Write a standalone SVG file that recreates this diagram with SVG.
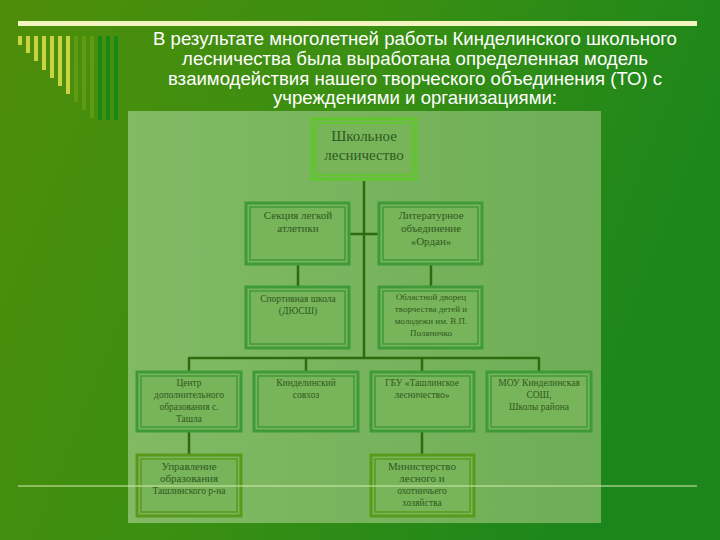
<svg xmlns="http://www.w3.org/2000/svg" width="720" height="540" viewBox="0 0 720 540">
<defs>
<linearGradient id="bg" x1="0" y1="0" x2="1" y2="0.3">
<stop offset="0" stop-color="#4f8d0a"/><stop offset="0.5" stop-color="#3a8f12"/><stop offset="1" stop-color="#1c861c"/>
</linearGradient>
<linearGradient id="pn" x1="0" y1="0" x2="1" y2="0">
<stop offset="0" stop-color="#82ba64"/><stop offset="1" stop-color="#6eae56"/>
</linearGradient>
<style>
.t{font-family:"Liberation Sans",Arial,sans-serif;font-size:18.6px;fill:#fff;text-anchor:middle}
.b rect.o{fill:#78b45a;stroke:#3f9a3a;stroke-width:3}
.b rect.i{fill:none;stroke:#3f9a3a;stroke-width:1.5}
.b text{font-family:"Liberation Serif","Times New Roman",serif;font-size:11px;fill:#2f5a20;text-anchor:middle}
.c line{stroke:#2e6a0e;stroke-width:2.5}
</style>
</defs>
<rect width="720" height="540" fill="url(#bg)"/>
<rect x="18" y="21" width="679" height="5" fill="#f3f5c0"/>
<g>
<rect x="18" y="36" width="4" height="9" fill="#c9d240"/>
<rect x="26" y="36" width="4" height="17" fill="#c9d240"/>
<rect x="34" y="36" width="4" height="25" fill="#c9d240"/>
<rect x="42" y="36" width="4" height="34" fill="#c9d240"/>
<rect x="50" y="36" width="4" height="42" fill="#c9d240"/>
<rect x="58" y="36" width="4" height="50" fill="#c9d240"/>
<rect x="66" y="36" width="4" height="58" fill="#c9d240"/>
<rect x="74" y="36" width="4" height="66" fill="#5e9a12"/>
<rect x="82" y="36" width="4" height="74" fill="#5e9a12"/>
<rect x="90" y="36" width="4" height="82" fill="#5e9a12"/>
<rect x="98" y="36" width="4" height="84" fill="#168816"/>
<rect x="106" y="36" width="4" height="84" fill="#168816"/>
<rect x="114" y="36" width="4" height="84" fill="#168816"/>
</g>
<text class="t" x="415" y="45">В результате многолетней работы Кинделинского школьного</text>
<text class="t" x="415" y="65">лесничества была выработана определенная модель</text>
<text class="t" x="415" y="85">взаимодействия нашего творческого объединения (ТО) с</text>
<text class="t" x="415" y="104">учреждениями и организациями:</text>
<rect x="128" y="111" width="473" height="412" fill="url(#pn)"/>
<g class="c">
<line x1="364" y1="181" x2="364" y2="358"/>
<line x1="349" y1="234" x2="379" y2="234"/>
<line x1="298" y1="264" x2="298" y2="287"/>
<line x1="431" y1="264" x2="431" y2="287"/>
<line x1="188" y1="358" x2="540" y2="358"/>
<line x1="189" y1="358" x2="189" y2="372"/>
<line x1="306" y1="358" x2="306" y2="372"/>
<line x1="422" y1="358" x2="422" y2="372"/>
<line x1="539" y1="358" x2="539" y2="372"/>
<line x1="189" y1="431" x2="189" y2="455"/>
<line x1="422" y1="431" x2="422" y2="455"/>
</g>
<g id="n1" class="b"><rect class="o" x="312" y="119" width="104" height="60" style="stroke:#5ec82a"/><rect class="i" x="316" y="123" width="96" height="52" style="stroke:#5ec82a"/><text x="364" y="141" style="font-size:15px">Школьное</text><text x="364" y="160" style="font-size:15px">лесничество</text></g>
<g id="n2" class="b"><rect class="o" x="246" y="203" width="103" height="61"/><rect class="i" x="250" y="207" width="95" height="53"/><text x="298" y="219">Секция легкой</text><text x="298" y="232">атлетики</text></g>
<g id="n3" class="b"><rect class="o" x="379" y="203" width="103" height="61"/><rect class="i" x="383" y="207" width="95" height="53"/><text x="431" y="219">Литературное</text><text x="431" y="232">объединение</text><text x="431" y="245">«Ордан»</text></g>
<g id="n4" class="b"><rect class="o" x="246" y="287" width="103" height="61"/><rect class="i" x="250" y="291" width="95" height="53"/><text x="298" y="302" style="font-size:9.5px">Спортивная школа</text><text x="298" y="314" style="font-size:9.5px">(ДЮСШ)</text></g>
<g id="n5" class="b"><rect class="o" x="379" y="287" width="103" height="61"/><rect class="i" x="383" y="291" width="95" height="53"/><text x="431" y="300" style="font-size:9px">Областной дворец</text><text x="431" y="312" style="font-size:9px">творчества детей и</text><text x="431" y="324" style="font-size:9px">молодежи им. В.П.</text><text x="431" y="336" style="font-size:9px">Поляничко</text></g>
<g id="n6" class="b"><rect class="o" x="137" y="372" width="104" height="59"/><rect class="i" x="141" y="376" width="96" height="51"/><text x="189" y="386" style="font-size:9.5px">Центр</text><text x="189" y="398" style="font-size:9.5px">дополнительного</text><text x="189" y="410" style="font-size:9.5px">образования с.</text><text x="189" y="422" style="font-size:9.5px">Ташла</text></g>
<g id="n7" class="b"><rect class="o" x="254" y="372" width="104" height="59"/><rect class="i" x="258" y="376" width="96" height="51"/><text x="306" y="386" style="font-size:9.5px">Кинделинский</text><text x="306" y="398" style="font-size:9.5px">совхоз</text></g>
<g id="n8" class="b"><rect class="o" x="371" y="372" width="103" height="59"/><rect class="i" x="375" y="376" width="95" height="51"/><text x="422" y="386" style="font-size:9.5px">ГБУ «Ташлинское</text><text x="422" y="398" style="font-size:9.5px">лесничество»</text></g>
<g id="n9" class="b"><rect class="o" x="487" y="372" width="104" height="59"/><rect class="i" x="491" y="376" width="96" height="51"/><text x="539" y="386" style="font-size:9.5px">МОУ Кинделинская</text><text x="539" y="398" style="font-size:9.5px">СОШ,</text><text x="539" y="410" style="font-size:9.5px">Школы района</text></g>
<g id="n10" class="b"><rect class="o" x="137" y="455" width="104" height="61" style="stroke:#5a9a1a"/><rect class="i" x="141" y="459" width="96" height="53" style="stroke:#5a9a1a"/><text x="189" y="470">Управление</text><text x="189" y="482">образования</text><text x="189" y="494" style="font-size:9.5px">Ташлинского р-на</text></g>
<g id="n11" class="b"><rect class="o" x="371" y="455" width="103" height="61" style="stroke:#5a9a1a"/><rect class="i" x="375" y="459" width="95" height="53" style="stroke:#5a9a1a"/><text x="422" y="470">Министерство</text><text x="422" y="482">лесного и</text><text x="422" y="494" style="font-size:9.5px">охотничьего</text><text x="422" y="506" style="font-size:9.5px">хозяйства</text></g>
<line x1="18" y1="486" x2="697" y2="486" stroke="#d8ecb0" stroke-width="1"/>
</svg>
